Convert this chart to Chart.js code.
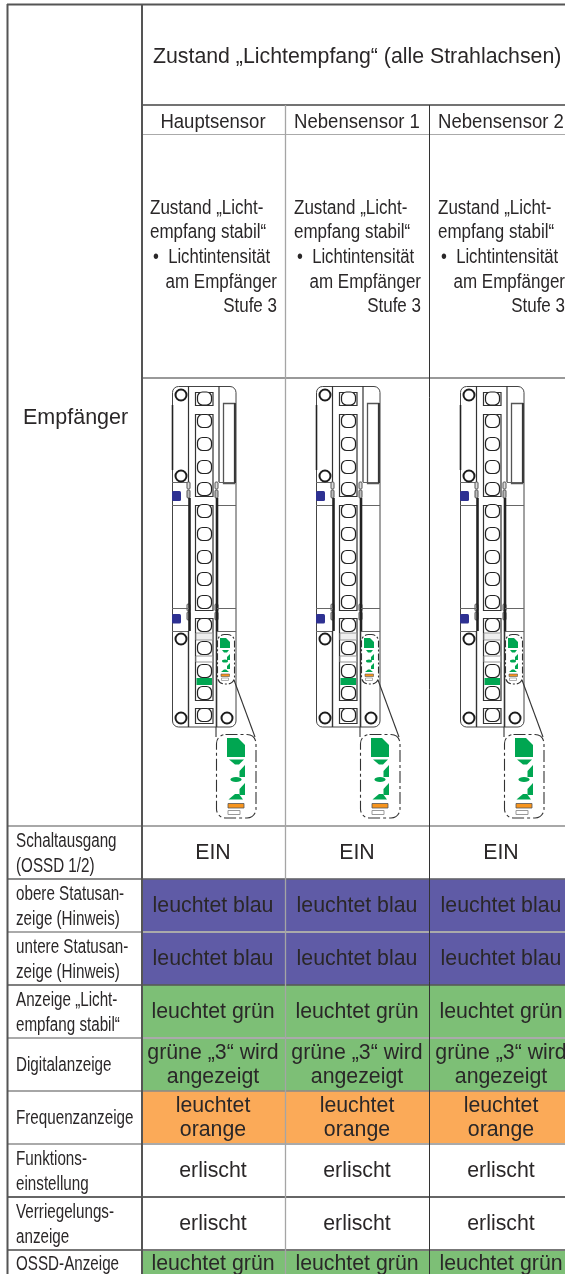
<!DOCTYPE html>
<html lang="de"><head><meta charset="utf-8">
<style>html,body{margin:0;padding:0;background:#fff;overflow:hidden}#w{width:565px;height:1274px;overflow:hidden;position:relative}canvas{display:block}</style>
<script src="https://cdn.jsdelivr.net/npm/chart.js@4/dist/chart.umd.min.js"></script>
</head><body><div id="w"><canvas id="c" width="574" height="1303"></canvas></div>
<script>
const sensors = ['Hauptsensor', 'Nebensensor 1', 'Nebensensor 2'];
const title = 'Zustand „Lichtempfang“ (alle Strahlachsen)';
const sideTitle = 'Empfänger';
const descLeft = ['Zustand „Licht-', 'empfang stabil“'];
const descBullet = '•  Lichtintensität';
const descRight = ['am Empfänger', 'Stufe 3'];
const rowLabels = [
  ['Schaltausgang', '(OSSD 1/2)'],
  ['obere Statusan-', 'zeige (Hinweis)'],
  ['untere Statusan-', 'zeige (Hinweis)'],
  ['Anzeige „Licht-', 'empfang stabil“'],
  ['Digitalanzeige'],
  ['Frequenzanzeige'],
  ['Funktions-', 'einstellung'],
  ['Verriegelungs-', 'anzeige'],
  ['OSSD-Anzeige']
];
const rowStates = [
  ['EIN'], ['leuchtet blau'], ['leuchtet blau'], ['leuchtet grün'],
  ['grüne „3“ wird', 'angezeigt'], ['leuchtet', 'orange'],
  ['erlischt'], ['erlischt'], ['leuchtet grün']
];
const rowKinds = ['none', 'blue', 'blue', 'green', 'green', 'orange', 'none', 'none', 'green'];
const hauptCells = [1, 1, 1, 1, 1, 1, 1, 1, 1];
const neben1Cells = [1, 1, 1, 1, 1, 1, 1, 1, 1];
const neben2Cells = [1, 1, 1, 1, 1, 1, 1, 1, 1];

const kindColor = { none: '#ffffff', blue: '#5f5ba6', green: '#7dbf76', orange: '#fbaa58' };
const INK = '#2a2728';
const FONT = '"Liberation Sans", Arial, sans-serif';

function txt(ctx, s, x, y, size, align, squeeze) {
  ctx.font = size + 'px ' + FONT;
  ctx.textAlign = align || 'left';
  ctx.textBaseline = 'alphabetic';
  ctx.fillStyle = INK;
  const w = ctx.measureText(s).width;
  ctx.fillText(s, x, y, w * (squeeze || 1));
}
function line(ctx, x0, y0, x1, y1, col, w) {
  ctx.strokeStyle = col; ctx.lineWidth = w;
  ctx.beginPath(); ctx.moveTo(x0, y0); ctx.lineTo(x1, y1); ctx.stroke();
}
function rr(ctx, x, y, w, h, r, stroke, lw, fill) {
  ctx.beginPath(); ctx.roundRect(x, y, w, h, r);
  if (fill) { ctx.fillStyle = fill; ctx.fill(); }
  if (stroke) { ctx.strokeStyle = stroke; ctx.lineWidth = lw; ctx.stroke(); }
}
function poly(ctx, pts, fill) {
  ctx.beginPath(); pts.forEach((p, i) => i ? ctx.lineTo(p[0], p[1]) : ctx.moveTo(p[0], p[1]));
  ctx.closePath(); ctx.fillStyle = fill; ctx.fill();
}
function ring(ctx, x, y, r) {
  ctx.beginPath(); ctx.arc(x, y, r, 0, Math.PI * 2);
  ctx.fillStyle = '#fff'; ctx.fill();
  ctx.strokeStyle = '#1c1c1c'; ctx.lineWidth = 2; ctx.stroke();
}
function drawSensor(ctx, ox) {
  const G = '#00a651', B = '#2e3192', O = '#f7941d', D = '#333';
  ctx.save(); ctx.translate(ox, 0);
  rr(ctx, 172.5, 386.5, 63.5, 340.5, 6, '#444', 1, '#fff');
  line(ctx, 172.5, 405, 172.5, 470, '#222', 1.6);
  line(ctx, 188.5, 386, 188.5, 482, D, 1.2);
  line(ctx, 219, 386, 219, 482, D, 1.2);
  line(ctx, 172, 482.5, 188, 482.5, '#666', 1);
  line(ctx, 219, 482.5, 236, 482.5, '#666', 1);
  line(ctx, 172, 505.5, 189, 505.5, '#666', 1);
  line(ctx, 217, 505.5, 236, 505.5, '#666', 1);
  rr(ctx, 223.5, 403.5, 11, 80, 0, '#555', 1.3);
  line(ctx, 235, 403, 235, 483, '#333', 1.8);
  ring(ctx, 181, 395, 5.5); ring(ctx, 181, 476, 5.5);
  rr(ctx, 172, 491, 9, 10, 1.5, null, 0, B);
  rr(ctx, 172, 614, 9, 9.5, 1.5, null, 0, B);
  [[186, 482], [214, 482], [186, 604], [214, 604]].forEach(p => {
    rr(ctx, p[0] + 1, p[1], 3, 7, 1, '#555', 1, '#ddd');
    rr(ctx, p[0] + 1, p[1] + 8, 3, 8, 1, '#555', 1, '#bbb');
  });
  line(ctx, 189.5, 498, 189.5, 631, '#222', 2.6);
  line(ctx, 217, 498, 217, 631, '#222', 2.6);
  line(ctx, 172, 608.5, 189, 608.5, '#666', 1);
  line(ctx, 217, 608.5, 236, 608.5, '#666', 1);
  line(ctx, 172, 631.5, 189, 631.5, '#666', 1);
  line(ctx, 217, 631.5, 236, 631.5, '#666', 1);
  line(ctx, 188.5, 631, 188.5, 727, D, 1.4);
  line(ctx, 216.5, 631, 216.5, 727, D, 1.6);
  ring(ctx, 181, 639, 5.5); ring(ctx, 181, 718, 5.5); ring(ctx, 227, 718, 5.5);
  rr(ctx, 195.5, 392.5, 17.5, 13, 0, '#333', 1.2);
  rr(ctx, 195.5, 414.5, 17.5, 82, 0, '#333', 1.2);
  rr(ctx, 195.5, 505.5, 17.5, 105, 0, '#333', 1.2);
  rr(ctx, 195.5, 618.5, 17.5, 82, 0, '#333', 1.2);
  rr(ctx, 195.5, 708.5, 17.5, 15, 0, '#333', 1.2);
  [398.5, 421, 444, 467, 489, 511, 534, 557, 579, 602, 625, 648, 671, 693, 715].forEach(cy => {
    rr(ctx, 197.5, cy - 6.5, 14, 13, 5, '#222', 1.2, '#fff');
  });
  rr(ctx, 196, 633, 16.5, 7, 0, '#999', 1, '#eee');
  rr(ctx, 196, 656, 16.5, 6, 0, '#999', 1, '#fff');
  rr(ctx, 196.5, 678, 15.5, 7, 0, null, 0, G);
  // small indicator window
  ctx.setLineDash([7, 2, 2, 2]);
  rr(ctx, 217.5, 634.5, 17, 49.5, 7, '#333', 1.1, '#fff');
  ctx.setLineDash([]);
  poly(ctx, [[220, 638], [226, 638], [230, 642], [230, 648], [220, 648]], G);
  poly(ctx, [[222, 650], [229, 650], [227, 652.5], [224, 652.5]], G);
  poly(ctx, [[230, 654], [230, 660], [227, 660], [227, 657]], G);
  ctx.beginPath(); ctx.ellipse(225, 661, 3, 1.5, 0, 0, Math.PI * 2); ctx.fillStyle = G; ctx.fill();
  poly(ctx, [[230, 663], [230, 669], [227, 669], [227, 666]], G);
  poly(ctx, [[221, 672], [224, 669.5], [226, 669.5], [229, 672]], G);
  rr(ctx, 221, 674, 8.5, 2.5, 0, '#555', .6, O);
  rr(ctx, 221.5, 678, 7, 2.5, 0, '#999', .8, '#fff');
  // callout
  line(ctx, 234, 680, 255, 737, '#333', 1.1);
  line(ctx, 216, 727, 216, 737, '#333', 1.1);
  ctx.setLineDash([12, 3, 3, 3]);
  rr(ctx, 216.5, 734.5, 39.5, 83.5, 9, '#333', 1.1, '#fff');
  ctx.setLineDash([]);
  poly(ctx, [[227, 738], [238, 738], [245, 745], [245, 757], [227, 757]], G);
  poly(ctx, [[229, 759.5], [244, 759.5], [239, 764.5], [235, 764.5]], G);
  poly(ctx, [[245, 765], [245, 777], [239.5, 777], [239.5, 771]], G);
  ctx.beginPath(); ctx.ellipse(236, 779.5, 5.5, 2.6, 0, 0, Math.PI * 2); ctx.fillStyle = G; ctx.fill();
  poly(ctx, [[245, 783], [245, 795], [239.5, 795], [239.5, 789]], G);
  poly(ctx, [[228.5, 799.5], [235, 794], [239, 794], [243, 799.5]], G);
  rr(ctx, 228, 803.5, 16, 4.5, 0, '#555', .8, O);
  rr(ctx, 228, 810.5, 12, 4, 0, '#999', 1, '#fff');
  ctx.restore();
}

const tablePlugin = {
  id: 'table',
  afterDatasetsDraw(chart) {
    const ctx = chart.ctx, X = chart.scales.x, Y = chart.scales.y;
    const colX = i => X.getPixelForValue(i);
    const rowTop = i => Y.getPixelForValue(i) - (Y.getPixelForValue(1) - Y.getPixelForValue(0)) / 2;
    const lastRow = rowLabels.length - 1;
    const textMid = r => rowTop(r) + 26.5 - (r === lastRow ? 13 : 0);
    ctx.save();
    sensors.forEach((_, c) => drawSensor(ctx, colX(c) - colX(0)));

    const rowRule = ['#a8a8a8', '#666', '#aaa', '#555', '#aaa', '#888', '#aaa', '#333', '#777'];
    rowLabels.forEach((_, i) => {
      const y = Math.round(rowTop(i));
      line(ctx, 8, y, 574, y, rowRule[i], i === 0 ? 2 : (i % 2 ? 1.4 : 1.8));
    });
    line(ctx, 7, 4.5, 574, 4.5, '#555', 2);
    line(ctx, 142, 105, 574, 105, '#444', 1.5);
    line(ctx, 142, 134.5, 574, 134.5, '#aaa', 1.2);
    line(ctx, 142, 378, 574, 378, '#777', 1.5);
    line(ctx, 7.5, 4, 7.5, 1274, '#555', 2);
    line(ctx, colX(0), 4, colX(0), 1274, '#555', 2);
    line(ctx, colX(1) - .5, 105, colX(1) - .5, 1274, '#a5a5a5', 1.3);
    line(ctx, colX(2) - .5, 105, colX(2) - .5, 1274, '#333', 1);

    txt(ctx, title, 153, 63, 21.3, 'left');
    txt(ctx, sideTitle, 23, 424, 21.5, 'left');
    sensors.forEach((s, c) => {
      const cx = colX(c) + 71;
      const ox = colX(c) - colX(0);
      txt(ctx, s, cx, 128, 20.5, 'center', 0.905);
      txt(ctx, descLeft[0], 150 + ox, 214, 20, 'left', 0.85);
      txt(ctx, descLeft[1], 150 + ox, 238, 20, 'left', 0.85);
      txt(ctx, descBullet, 153 + ox, 263, 20, 'left', 0.835);
      txt(ctx, descRight[0], 277 + ox, 288, 20, 'right', 0.85);
      txt(ctx, descRight[1], 277 + ox, 312, 20, 'right', 0.85);
      rowStates.forEach((lines, r) => {
        const mid = textMid(r);
        const ys = lines.length === 1 ? [mid + 6.5] : [mid - 5.5, mid + 18.5];
        lines.forEach((l, k) => txt(ctx, l, cx, ys[k], 21.3, 'center'));
      });
    });
    rowLabels.forEach((lines, r) => {
      const mid = textMid(r);
      const ys = lines.length === 1 ? [mid + 6.5] : [mid - 5.5, mid + 19];
      lines.forEach((l, k) => txt(ctx, l, 16, ys[k], 20, 'left', 0.76));
    });
    ctx.restore();
  }
};

const bg = rowKinds.map(k => kindColor[k]);
new Chart(document.getElementById('c'), {
  type: 'bar',
  data: {
    labels: rowLabels.map(l => l.join(' ')),
    datasets: [
      { label: sensors[0], data: hauptCells, backgroundColor: bg },
      { label: sensors[1], data: neben1Cells, backgroundColor: bg },
      { label: sensors[2], data: neben2Cells, backgroundColor: bg }
    ]
  },
  options: {
    indexAxis: 'y', responsive: false, animation: false, devicePixelRatio: 1,
    barPercentage: 1, categoryPercentage: 1, borderWidth: 0,
    layout: { padding: { left: 142, top: 826, right: 0, bottom: 0 } },
    plugins: { legend: { display: false }, tooltip: { enabled: false }, title: { display: false } },
    scales: {
      x: { type: 'linear', min: 0, max: 3, stacked: true, display: false },
      y: { type: 'category', stacked: true, display: false }
    }
  },
  plugins: [tablePlugin]
});
</script></body></html>
